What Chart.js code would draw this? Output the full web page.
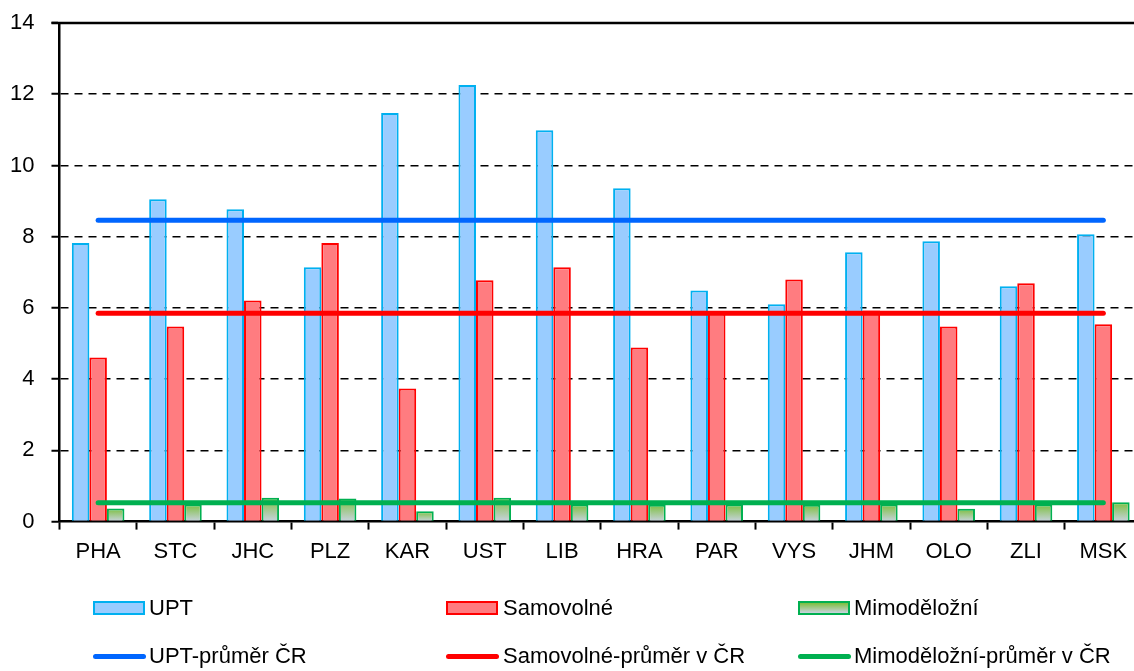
<!DOCTYPE html>
<html lang="cs">
  <head>
    <meta charset="UTF-8" />
    <title>UPT, samovolné a mimoděložní</title>
    <script src="https://cdn.jsdelivr.net/npm/chart.js"></script>
    <style>
      html, body { margin: 0; padding: 0; background: #fff; overflow: hidden; }
      body { width: 1134px; height: 671px; position: relative; font-family: "Liberation Sans", Arial, sans-serif; }
      #wrap { position: absolute; left: 0; top: 0; width: 1144px; height: 671px; }
      .leg { position: absolute; font-size: 22px; color: #000; line-height: 24px; white-space: nowrap; }
      .box { position: absolute; width: 52px; height: 14px; box-sizing: border-box; border: 2px solid; }
      .ln { position: absolute; width: 53px; height: 5px; border-radius: 3px; }
    </style>
  </head>
  <body>
    <div id="wrap"><canvas id="myChart"></canvas></div>

    <!-- legend, 3 columns x 2 rows like the original -->
    <div class="box" style="left:93px;top:601px;background:#99ccff;border-color:#00b0f0"></div>
    <div class="leg" style="left:149px;top:596px">UPT</div>
    <div class="box" style="left:446px;top:601px;background:#ff7c80;border-color:#ff0000"></div>
    <div class="leg" style="left:503px;top:596px">Samovolné</div>
    <div class="box" style="left:798px;top:601px;background:linear-gradient(#7cbf3e,#c9d3e0);border-color:#00b050"></div>
    <div class="leg" style="left:854px;top:596px">Mimoděložní</div>

    <div class="ln" style="left:93px;top:654px;background:#0066ff"></div>
    <div class="leg" style="left:149px;top:644px">UPT-průměr ČR</div>
    <div class="ln" style="left:446px;top:654px;background:#ff0000"></div>
    <div class="leg" style="left:503px;top:644px">Samovolné-průměr v ČR</div>
    <div class="ln" style="left:798px;top:654px;background:#00b050"></div>
    <div class="leg" style="left:854px;top:644px">Mimoděložní-průměr v ČR</div>

    <script>
      const regions = ["PHA", "STC", "JHC", "PLZ", "KAR", "UST", "LIB", "HRA", "PAR", "VYS", "JHM", "OLO", "ZLI", "MSK"];
      const upt = [7.82, 9.05, 8.77, 7.14, 11.47, 12.26, 10.99, 9.36, 6.49, 6.10, 7.56, 7.87, 6.61, 8.07];
      const samovolne = [4.61, 5.48, 6.21, 7.82, 3.74, 6.78, 7.14, 4.89, 5.85, 6.80, 5.93, 5.48, 6.69, 5.54];
      const mimodelozni = [0.37, 0.48, 0.67, 0.65, 0.29, 0.67, 0.48, 0.47, 0.48, 0.47, 0.48, 0.36, 0.48, 0.54];
      const uptAvg = 8.46;
      const samovolneAvg = 5.85;
      const mimodelozniAvg = 0.53;
      const yTicks = [0, 2, 4, 6, 8, 10, 12, 14];

      const font = { family: "'Liberation Sans', Arial, sans-serif", size: 22 };

      // gradient per green bar, top green -> bottom greyish
      function greenFill(c) {
        const chart = c.chart;
        if (!chart.chartArea || c.type !== "data") return "#a9d18e";
        const y = chart.scales.y;
        const top = y.getPixelForValue(c.raw);
        const bot = y.getPixelForValue(0);
        if (!isFinite(top) || bot - top < 1) return "#a9d18e";
        const g = chart.ctx.createLinearGradient(0, top, 0, bot);
        g.addColorStop(0, "#7cbf3e");
        g.addColorStop(1, "#c9d3e0");
        return g;
      }

      // solid frame line at the top (the 14 grid line is solid in the original)
      const topLine = {
        id: "topLine",
        beforeDatasetsDraw(chart) {
          const { ctx, chartArea } = chart;
          ctx.save();
          ctx.strokeStyle = "#000";
          ctx.lineWidth = 2.5;
          ctx.beginPath();
          ctx.moveTo(chartArea.left - 8, chartArea.top);
          ctx.lineTo(chartArea.right, chartArea.top);
          ctx.stroke();
          ctx.restore();
        }
      };

      const ctx = document.getElementById("myChart").getContext("2d");
      const chart = new Chart(ctx, {
        type: "bar",
        data: {
          labels: regions,
          datasets: [
            {
              label: "UPT",
              data: upt,
              backgroundColor: "#99ccff",
              borderColor: "#00b0f0",
              borderWidth: 2,
              order: 2
            },
            {
              label: "Samovolné",
              data: samovolne,
              backgroundColor: "#ff7c80",
              borderColor: "#ff0000",
              borderWidth: 2,
              order: 2
            },
            {
              label: "Mimoděložní",
              data: mimodelozni,
              backgroundColor: greenFill,
              borderColor: "#00b050",
              borderWidth: 2,
              order: 2
            },
            {
              type: "line",
              label: "UPT-průměr ČR",
              data: regions.map(() => uptAvg),
              borderColor: "#0066ff",
              borderWidth: 5,
              borderCapStyle: "round",
              pointRadius: 0,
              order: 1
            },
            {
              type: "line",
              label: "Samovolné-průměr v ČR",
              data: regions.map(() => samovolneAvg),
              borderColor: "#ff0000",
              borderWidth: 5,
              borderCapStyle: "round",
              pointRadius: 0,
              order: 1
            },
            {
              type: "line",
              label: "Mimoděložní-průměr v ČR",
              data: regions.map(() => mimodelozniAvg),
              borderColor: "#00b050",
              borderWidth: 5,
              borderCapStyle: "round",
              pointRadius: 0,
              order: 1
            }
          ]
        },
        options: {
          responsive: true,
          maintainAspectRatio: false,
          animation: false,
          datasets: { bar: { categoryPercentage: 0.68, barPercentage: 1.0 } },
          layout: { padding: { left: -7, top: 23, right: 2, bottom: 97 } },
          plugins: { legend: { display: false }, tooltip: { enabled: false } },
          scales: {
            x: {
              offset: true,
              grid: {
                offset: true,
                drawOnChartArea: false,
                tickLength: 8,
                tickWidth: 2,
                tickColor: "#000"
              },
              border: { color: "#000", width: 2.5 },
              ticks: { color: "#000", font: font, padding: 9, maxRotation: 0 }
            },
            y: {
              min: 0,
              max: 14,
              afterBuildTicks: (s) => { s.ticks = yTicks.map((v) => ({ value: v })); },
              // the label gap (tick padding) should not push the plot top down
              afterFit: (s) => { s.paddingTop = 0; s.paddingBottom = 0; },
              grid: {
                color: (c) => (c.tick && (c.tick.value === 0 || c.tick.value === 14) ? "rgba(0,0,0,0)" : "#000"),
                lineWidth: 1.5,
                tickLength: 8,
                tickWidth: 2,
                tickColor: "#000"
              },
              border: { color: "#000", width: 2.5, dash: [8, 6] },
              ticks: { color: "#000", font: font, padding: 17 }
            }
          }
        },
        plugins: [topLine]
      });
    </script>
  </body>
</html>
